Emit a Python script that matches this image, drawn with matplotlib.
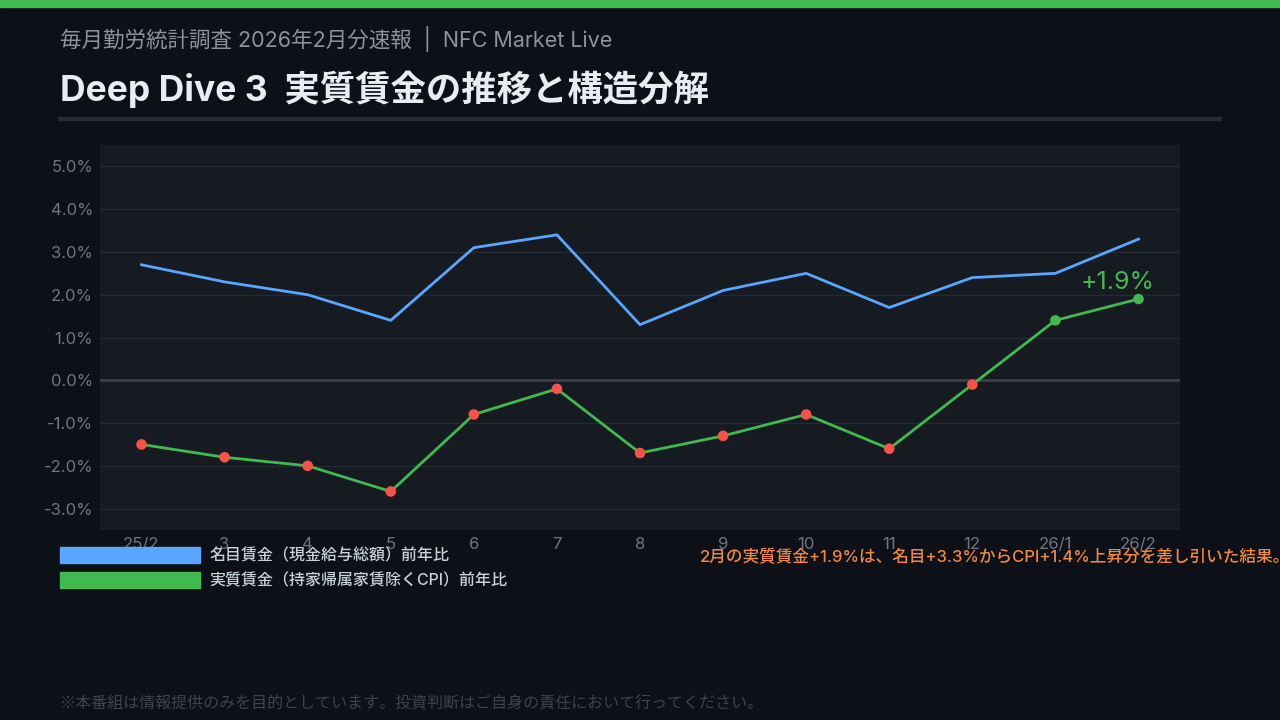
import numpy as np
import matplotlib
matplotlib.use("Agg")
from matplotlib import pyplot as plt
from matplotlib.patches import Patch, Rectangle

plt.rcParams['font.family'] = ['Inter', 'Noto Sans CJK JP', 'DejaVu Sans']

# data: year-on-year change (%)
months = ['25/2', '3', '4', '5', '6', '7', '8', '9', '10', '11', '12', '26/1', '26/2']
nominal = [2.7, 2.3, 2.0, 1.4, 3.1, 3.4, 1.3, 2.1, 2.5, 1.7, 2.4, 2.5, 3.3]
real = [-1.5, -1.8, -2.0, -2.6, -0.8, -0.2, -1.7, -1.3, -0.8, -1.6, -0.1, 1.4, 1.9]
yticks = [-3, -2, -1, 0, 1, 2, 3, 4, 5]

bg = '#0d1117'
panel = '#161b22'
blue = '#58a6ff'
green = '#3fb950'
red = '#f85149'
orange = '#f0883e'

W, H = 1280, 720
fig = plt.figure(figsize=(W / 100, H / 100), dpi=100, facecolor=bg)

# top accent bar and title rule
fig.patches.append(Rectangle((0, 1 - 7 / H), 1, 7 / H, transform=fig.transFigure,
                             color=green, zorder=0))
fig.add_artist(plt.Line2D([60 / W, 1220 / W], [1 - 119 / H] * 2, color='#262c36', lw=3))

fig.text(60 / W, 1 - 39 / H, '毎月勤労統計調査 2026年2月分速報  |  NFC Market Live',
         color='#8b949e', fontsize=15.5, va='center')
fig.text(60 / W, 1 - 89 / H, 'Deep Dive 3  実質賃金の推移と構造分解',
         color='#e6edf3', fontsize=25.5, fontweight='bold', va='center')

ax = fig.add_axes([100 / W, (H - 530) / H, 1080 / W, 385 / H])
ax.set_facecolor(panel)
for s in ax.spines.values():
    s.set_visible(False)

x = np.arange(len(months))

ax.plot(x, nominal, color=blue, lw=2, zorder=3)
ax.plot(x, real, color=green, lw=2, zorder=3)
mcol = [green if v > 0 else red for v in real]
ax.scatter(x, real, s=58, c=mcol, zorder=4, linewidths=0)

ax.text(x[-1] - 0.25, real[-1] + 0.38, f'+{real[-1]:.1f}%', color=green,
        fontsize=18, ha='center', va='center', zorder=5)

ax.axhline(0, color='#3a3f47', lw=2, zorder=2)
ax.set_yticks(yticks)
ax.set_yticklabels([f'{v:.1f}%' for v in yticks])
ax.grid(axis='y', color='#242a33', lw=1, zorder=1)
ax.set_axisbelow(True)
ax.set_xticks(x)
ax.set_xticklabels(months)
ax.tick_params(colors='#6e7681', labelsize=12, length=0, pad=5)
ax.set_xlim(-0.5, 12.5)
ax.set_ylim(-3.5, 5.5)

handles = [Patch(color=blue, label='名目賃金（現金給与総額）前年比'),
           Patch(color=green, label='実質賃金（持家帰属家賃除くCPI）前年比')]
leg = fig.legend(handles=handles, loc='upper left', bbox_to_anchor=(60 / W, 1 - 547 / H),
                 frameon=False, fontsize=11.5, handlelength=8.75, handleheight=1.2,
                 handletextpad=0.6, labelspacing=0.5, borderpad=0, borderaxespad=0)
for t in leg.get_texts():
    t.set_color('#c9d1d9')
    t.set_fontweight('medium')

fig.text(700 / W, 1 - 557 / H,
         '2月の実質賃金+1.9%は、名目+3.3%からCPI+1.4%上昇分を差し引いた結果。',
         color=orange, fontsize=12, fontweight='medium', va='center')

fig.text(60 / W, 1 - 704 / H,
         '※本番組は情報提供のみを目的としています。投資判断はご自身の責任において行ってください。',
         color='#3d444d', fontsize=11.5, va='center',
         family=['Noto Sans CJK JP', 'DejaVu Sans'])

fig.savefig('out.png', dpi=100, facecolor=bg)
